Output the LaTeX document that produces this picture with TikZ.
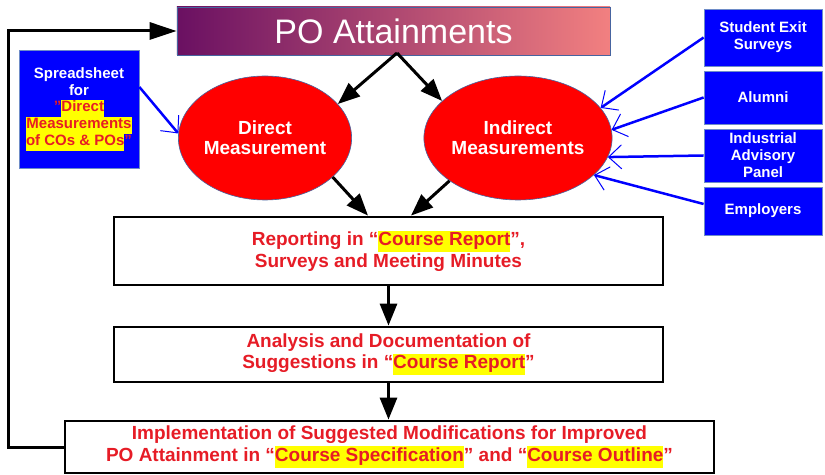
\documentclass[tikz,border=0pt]{standalone}
\usepackage{fontspec}
\setmainfont{Liberation Sans}
\usetikzlibrary{arrows.meta,shapes.geometric}
\definecolor{tred}{RGB}{230,28,38}
\definecolor{hly}{RGB}{255,255,0}
\definecolor{bbox}{RGB}{0,0,255}
\definecolor{bedge}{RGB}{110,140,200}
\definecolor{eedge}{RGB}{70,100,160}
\definecolor{tleft}{RGB}{106,16,98}
\definecolor{tright}{RGB}{242,128,128}
\newcommand\hl[1]{{\setlength{\fboxsep}{0pt}\colorbox{hly}{\strut #1}}}
\tikzset{
  blkbox/.style={draw=black, line width=2.8bp, rectangle, inner sep=0pt, align=center,
    text=tred, font=\fontsize{19bp}{21.5bp}\selectfont\bfseries},
  bluebox/.style={draw=bedge, line width=0.8bp, fill=bbox, rectangle, inner sep=0pt,
    align=center, text=white, font=\fontsize{15bp}{17bp}\selectfont\bfseries,
    minimum width=118bp},
  redell/.style={ellipse, draw=eedge, line width=0.6bp, fill=red, inner sep=0pt,
    minimum width=170bp, minimum height=124bp, align=center, text=white,
    font=\fontsize{19bp}{20bp}\selectfont\bfseries},
  blkarrow/.style={draw=black, line width=3bp, -{Triangle[length=22bp,width=17bp]}},
  bluearrow/.style={draw=bbox, line width=2.5bp,
    -{Straight Barb[length=13bp,width=24bp,line width=1bp]}}
}
\begin{document}
\begin{tikzpicture}[x=1bp,y=-1bp]
\useasboundingbox (0,0) rectangle (825,475);
% title
\node[rectangle, draw=eedge, line width=0.6bp, left color=tleft, right color=tright,
  minimum width=433bp, minimum height=48bp, inner sep=0pt, text=white,
  font=\fontsize{34bp}{36bp}\selectfont] (title) at (393.5,31) {PO Attainments};
% spreadsheet
\node[bluebox, minimum width=120bp, minimum height=118bp, font=\fontsize{15bp}{16.8bp}\selectfont\bfseries]
  (ss) at (79,109) {Spreadsheet\\for\\{\color{tred}"}\hl{\color{tred}Direct}\\\hl{\color{tred}Measurements}\\\hl{\color{tred}of COs \& POs}{\color{tred}"}};
% ellipses
\node[redell] (dm) at (265,138) {Direct\\Measurement};
\node[redell] (im) at (518,138) {Indirect\\Measurements};
% right boxes
\node[bluebox, minimum height=57bp] (se) at (763,37.5) {Student Exit\\Surveys};
\node[bluebox, minimum height=53bp] (al) at (763,97.5) {Alumni};
\node[bluebox, minimum height=53bp] (iap) at (763,155.5) {Industrial\\Advisory\\Panel};
\node[bluebox, minimum height=48bp] (emp) at (763,211) {Employers};
% process boxes
\node[blkbox, minimum width=549bp, minimum height=68bp] (rep) at (388.5,251)
  {Reporting in “\hl{Course Report}”,\\Surveys and Meeting Minutes};
\node[blkbox, minimum width=549bp, minimum height=55bp] (ana) at (388.5,354.5)
  {Analysis and Documentation of\\Suggestions in “\hl{Course Report}”};
\node[blkbox, minimum width=649bp, minimum height=52bp] (impl) at (389.5,447)
  {Implementation of Suggested Modifications for Improved\\PO Attainment in “\hl{Course Specification}” and “\hl{Course Outline}”};
% connectors
\coordinate (apex) at (397,53);
\coordinate (fb) at (8,448);
\draw[blkarrow] (apex) -- (dm.25);
\draw[blkarrow] (apex) -- (im.154);
\draw[blkarrow] (dm.-30) -- ([xshift=-20.5bp]rep.north);
\draw[blkarrow] (im.-148) -- ([xshift=22.5bp]rep.north);
\draw[blkarrow] (rep.south) -- (ana.north);
\draw[blkarrow] (ana.south) -- (ana.south |- impl.north);
\draw[draw=black, line width=3bp, -{Triangle[length=27bp,width=17bp]}]
  (impl.west) -- (impl.west -| fb) |- (title.west);
\draw[bluearrow] (ss.20) -- (dm.177);
\draw[bluearrow] (se.west) -- (im.20);
\draw[bluearrow] (al.west) -- (im.5);
\draw[bluearrow] (iap.west) -- (im.-12);
\draw[bluearrow] ([yshift=7bp]emp.west) -- (im.-26);
\end{tikzpicture}
\end{document}
